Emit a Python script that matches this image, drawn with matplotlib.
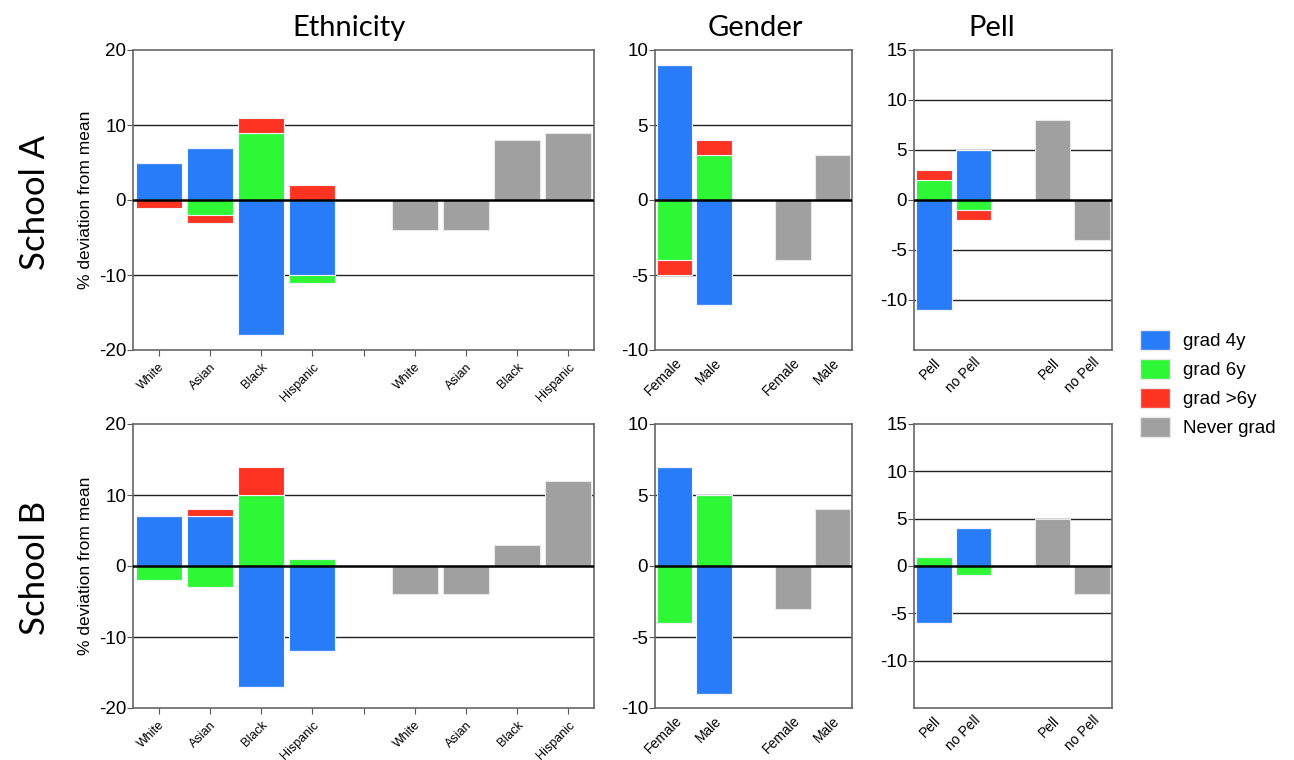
import numpy as np
import matplotlib
matplotlib.use('Agg')
import matplotlib.pyplot as plt
from matplotlib.patches import Patch

plt.rcParams['font.family'] = ['Liberation Sans', 'DejaVu Sans']

# Group labels
eth_labels = ['White', 'Asian', 'Black', 'Hispanic']
gender_labels = ['Female', 'Male']
pell_labels = ['Pell', 'no Pell']

# School A  (% deviation from mean)
a_eth_4y = [5, 7, -18, -10]
a_eth_6y = [0, -2, 9, -1]
a_eth_late = [-1, -1, 2, 2]
a_eth_never = [-4, -4, 8, 9]

a_gen_4y = [9, -7]
a_gen_6y = [-4, 3]
a_gen_late = [-1, 1]
a_gen_never = [-4, 3]

a_pell_4y = [-11, 5]
a_pell_6y = [2, -1]
a_pell_late = [1, -1]
a_pell_never = [8, -4]

# School B
b_eth_4y = [7, 7, -17, -12]
b_eth_6y = [-2, -3, 10, 1]
b_eth_late = [0, 1, 4, 0]
b_eth_never = [-4, -4, 3, 12]

b_gen_4y = [7, -9]
b_gen_6y = [-4, 5]
b_gen_late = [0, 0]
b_gen_never = [-3, 4]

b_pell_4y = [-6, 4]
b_pell_6y = [1, -1]
b_pell_late = [0, 0]
b_pell_never = [5, -3]

series_names = ['grad 4y', 'grad 6y', 'grad >6y', 'Never grad']
colors = ['#287CF8', '#2EF835', '#FF3322', '#A0A0A0']


# Draws one panel: stacked grad bars on the left, never-grad bars on the right
def draw_panel(ax, labels, grad4, grad6, late, never, ylim, yticks, grid, gap_tick=False):
    n = len(labels)
    x = np.arange(n)
    x_never = np.arange(n) + n + 1
    width = 0.9

    for y in grid:
        ax.axhline(y, color='#222222', lw=1.0, zorder=0)

    # stack positive and negative parts separately, order 4y -> 6y -> >6y
    pos_base = np.zeros(n)
    neg_base = np.zeros(n)
    for vals, c in zip([grad4, grad6, late], colors[:3]):
        vals = np.array(vals, dtype=float)
        pos = np.where(vals > 0, vals, 0)
        neg = np.where(vals < 0, vals, 0)
        ax.bar(x, pos, width, bottom=pos_base, color=c, edgecolor='#eef3ff', lw=0.8, zorder=2)
        ax.bar(x, neg, width, bottom=neg_base, color=c, edgecolor='#eef3ff', lw=0.8, zorder=2)
        pos_base += pos
        neg_base += neg

    ax.bar(x_never, never, width, color=colors[3], edgecolor='#e8e8e8', lw=0.8, zorder=2)
    ax.axhline(0, color='black', lw=1.8, zorder=3)

    ax.set_xlim(-0.5, 2 * n + 0.5)
    ax.set_ylim(*ylim)
    ax.set_yticks(yticks)
    ax.set_yticklabels([str(t) for t in yticks], fontsize=13.5)

    if gap_tick:
        ticks = list(x) + [n] + list(x_never)
        tick_labels = labels + [''] + labels
        ax.set_xticks(ticks)
        ax.set_xticklabels(tick_labels, rotation=45, ha='right', rotation_mode='anchor', fontsize=9)
        ax.tick_params(axis='x', length=4, color='#555555')
    else:
        ax.set_xticks(list(x) + list(x_never))
        ax.set_xticklabels(labels + labels, rotation=45, ha='right', rotation_mode='anchor', fontsize=10)
        ax.tick_params(axis='x', length=0)
    ax.tick_params(axis='x', pad=4)
    ax.tick_params(axis='y', length=4, color='#555555', pad=1)

    for s in ax.spines.values():
        s.set_color('#666666')
        s.set_linewidth(1.2)


fig = plt.figure(figsize=(12.94, 7.6), dpi=100)
W, H = 1294.0, 760.0


def add_axes(left, right, top, bottom):
    return fig.add_axes([left / W, 1 - bottom / H, (right - left) / W, (bottom - top) / H])


rows = [
    (50, 350, (a_eth_4y, a_eth_6y, a_eth_late, a_eth_never),
     (a_gen_4y, a_gen_6y, a_gen_late, a_gen_never),
     (a_pell_4y, a_pell_6y, a_pell_late, a_pell_never)),
    (424, 708, (b_eth_4y, b_eth_6y, b_eth_late, b_eth_never),
     (b_gen_4y, b_gen_6y, b_gen_late, b_gen_never),
     (b_pell_4y, b_pell_6y, b_pell_late, b_pell_never)),
]

for i, (top, bottom, eth, gen, pell) in enumerate(rows):
    ax1 = add_axes(133, 594, top, bottom)
    draw_panel(ax1, eth_labels, *eth, ylim=(-20, 20), yticks=[-20, -10, 0, 10, 20],
               grid=[-10, 10], gap_tick=True)
    ax1.set_ylabel('% deviation from mean', fontsize=12.5, labelpad=4)

    ax2 = add_axes(655, 852, top, bottom)
    draw_panel(ax2, gender_labels, *gen, ylim=(-10, 10), yticks=[-10, -5, 0, 5, 10], grid=[-5, 5])

    ax3 = add_axes(914, 1112, top, bottom)
    draw_panel(ax3, pell_labels, *pell, ylim=(-15, 15), yticks=[-10, -5, 0, 5, 10, 15],
               grid=[-10, -5, 5, 10])

    fig.text(35 / W, 1 - (top + bottom) / 2 / H - 0.003, 'School ' + 'AB'[i], rotation=90,
             ha='center', va='center', fontsize=25, family='Lato')

# column titles
for label, xc in [('Ethnicity', 349), ('Gender', 755), ('Pell', 992)]:
    fig.text(xc / W, 1 - 28 / H, label, ha='center', va='center', fontsize=21, family='Lato')

handles = [Patch(facecolor=c, edgecolor='#e8e8e8') for c in colors]
fig.legend(handles, series_names, loc='upper left', bbox_to_anchor=(1140 / W, 1 - 330 / H),
           frameon=False, fontsize=13.5, handlelength=1.6, handleheight=1.3,
           labelspacing=0.45, handletextpad=0.7, borderpad=0, borderaxespad=0)

fig.savefig('out.png', dpi=100)
